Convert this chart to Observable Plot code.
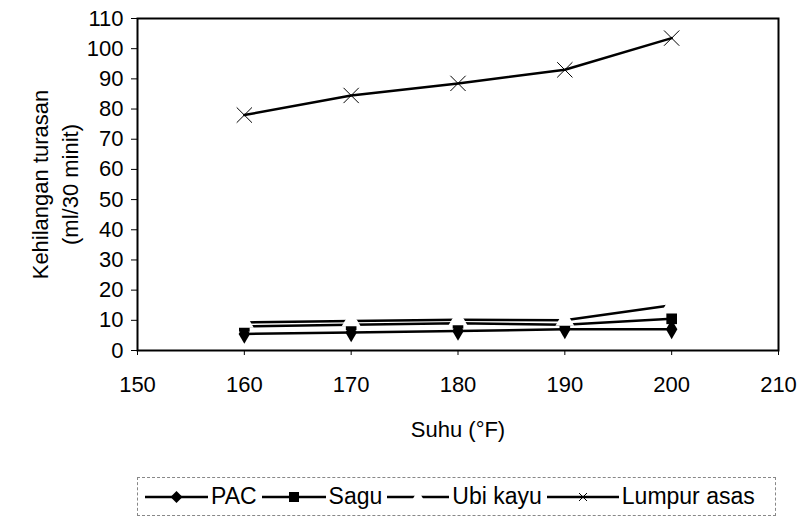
<!DOCTYPE html>
<html>
<head>
<meta charset="utf-8">
<script src="https://cdn.jsdelivr.net/npm/d3@7"></script>
<script src="https://cdn.jsdelivr.net/npm/@observablehq/plot@0.6"></script>
<style>
  body { margin: 0; background: #fff; font-family: "Liberation Sans", Arial, sans-serif; }
  #legend { position: absolute; left: 137px; top: 477px; width: 639px; height: 39px;
    border: 1px dashed #888; box-sizing: border-box; display: flex; align-items: center;
    font-size: 23px; color: #000; padding-left: 7px; }
  #legend .item { display: flex; align-items: center; margin-right: 5px; }
  #legend svg { margin-right: 3px; }
</style>
</head>
<body>
<div id="chart"></div>
<div id="legend"></div>
<script>
const suhu = [160, 170, 180, 190, 200];
const pac = [5.5, 6, 6.5, 7, 7];
const sagu = [8, 8.5, 9, 8.5, 10.5];
const ubiKayu = [9.3, 9.8, 10.2, 10, 15];
const lumpurAsas = [78, 84.5, 88.5, 93, 103.5];
const xTicks = [150, 160, 170, 180, 190, 200, 210];
const yTicks = [0, 10, 20, 30, 40, 50, 60, 70, 80, 90, 100, 110];
const seriesNames = ["PAC", "Sagu", "Ubi kayu", "Lumpur asas"];
const seriesValues = [pac, sagu, ubiKayu, lumpurAsas];

const rows = seriesNames.flatMap((s, i) => suhu.map((x, j) => ({series: s, x, y: seriesValues[i][j]})));
const of = s => rows.filter(d => d.series === s);

const chart = Plot.plot({
  width: 799,
  height: 470,
  marginLeft: 137,
  marginRight: 21,
  marginTop: 18,
  marginBottom: 120,
  style: {fontFamily: "'Liberation Sans', Arial, sans-serif", fontSize: "22px", color: "#000", background: "#fff"},
  x: {domain: [150, 210]},
  y: {domain: [0, 110]},
  marks: [
    Plot.axisX({ticks: xTicks, tickSize: 5, tickPadding: 21, label: "Suhu (°F)", labelAnchor: "center", labelOffset: 86, labelArrow: false, fontSize: 22}),
    Plot.axisY({ticks: yTicks, tickSize: 6, tickPadding: 8, label: null, fontSize: 22}),
    Plot.line(of("PAC"), {x: "x", y: "y", stroke: "#000", strokeWidth: 2.5}),
    Plot.dot(of("PAC"), {x: "x", y: "y", symbol: "diamond", fill: "#000", r: 6}),
    Plot.line(of("Sagu"), {x: "x", y: "y", stroke: "#000", strokeWidth: 2.5}),
    Plot.dot(of("Sagu"), {x: "x", y: "y", symbol: "square", fill: "#000", r: 6}),
    Plot.line(of("Ubi kayu"), {x: "x", y: "y", stroke: "#000", strokeWidth: 2.5}),
    Plot.dot(of("Ubi kayu"), {x: "x", y: "y", symbol: "triangle", fill: "#fff", r: 7}),
    Plot.line(of("Lumpur asas"), {x: "x", y: "y", stroke: "#000", strokeWidth: 2.5}),
    Plot.dot(of("Lumpur asas"), {x: "x", y: "y", symbol: "times", stroke: "#000", strokeWidth: 1, r: 7}),
    Plot.frame({stroke: "#000", strokeWidth: 2}),
    Plot.text(["Kehilangan turasan"], {frameAnchor: "left", dx: -97, rotate: -90, textAnchor: "middle", fontSize: 22, text: d => d}),
    Plot.text(["(ml/30 minit)"], {frameAnchor: "left", dx: -67, rotate: -90, textAnchor: "middle", fontSize: 22, text: d => d})
  ]
});
document.getElementById("chart").appendChild(chart);

// Legend
const legend = document.getElementById("legend");
const lineW = {"PAC": 63, "Sagu": 64, "Ubi kayu": 62, "Lumpur asas": 72};
const markers = {
  "PAC": w => `<path d="M${w/2},10 L${w/2+6},16 L${w/2},22 L${w/2-6},16 Z" fill="#000"/>`,
  "Sagu": w => `<rect x="${w/2-5}" y="11" width="10" height="10" fill="#000"/>`,
  "Ubi kayu": w => `<path d="M${w/2},9 L${w/2+7},21 L${w/2-7},21 Z" fill="#fff"/>`,
  "Lumpur asas": w => `<path d="M${w/2-4},12 L${w/2+4},20 M${w/2+4},12 L${w/2-4},20" stroke="#000" stroke-width="1"/>`
};
seriesNames.forEach(name => {
  const w = lineW[name];
  const item = document.createElement("div");
  item.className = "item";
  item.innerHTML = `<svg width="${w}" height="32"><line x1="0" y1="16" x2="${w}" y2="16" stroke="#000" stroke-width="2.5"/>${markers[name](w)}</svg><span>${name}</span>`;
  legend.appendChild(item);
});
</script>
</body>
</html>
